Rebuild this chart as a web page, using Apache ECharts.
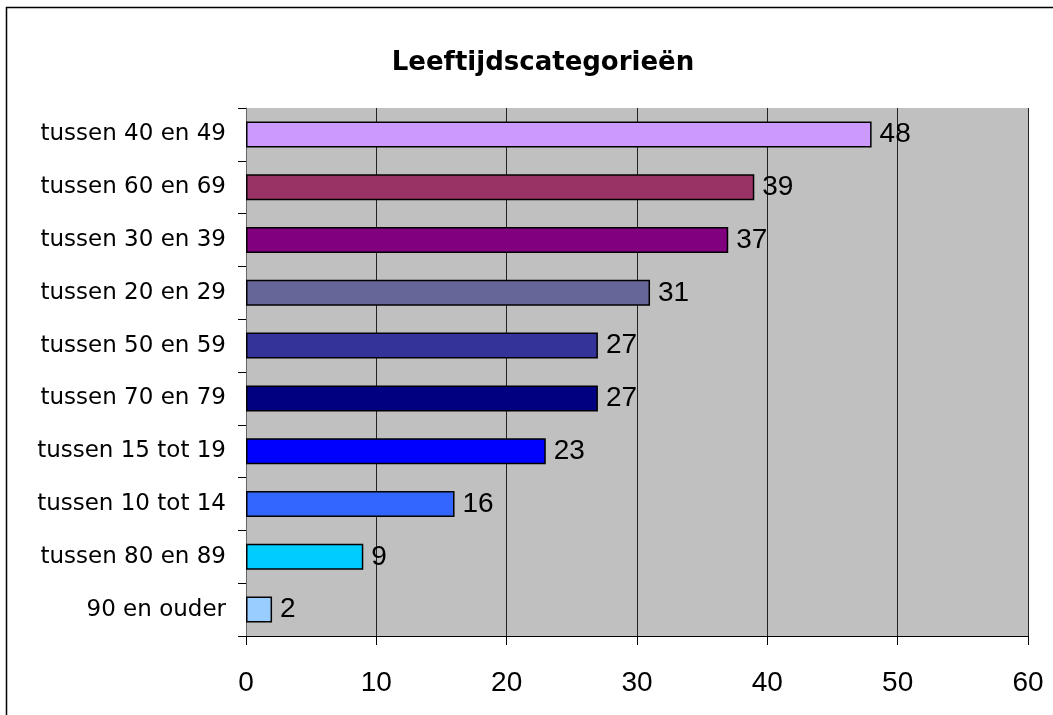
<!DOCTYPE html>
<html>
<head>
<meta charset="utf-8">
<script src="https://cdn.jsdelivr.net/npm/echarts@6/dist/echarts.min.js"></script>
<style>
  html, body { margin: 0; padding: 0; background: #fff; }
  #chart { width: 1053px; height: 715px; }
</style>
</head>
<body>
<div id="chart"></div>
<script>
// categorieen van boven naar beneden
const categories = [
  "tussen 40 en 49", "tussen 60 en 69", "tussen 30 en 39", "tussen 20 en 29",
  "tussen 50 en 59", "tussen 70 en 79", "tussen 15 tot 19", "tussen 10 tot 14",
  "tussen 80 en 89", "90 en ouder"
];
const values = [48, 39, 37, 31, 27, 27, 23, 16, 9, 2];
const barColors = [
  "#CC99FF", "#993366", "#800080", "#666699", "#333399",
  "#000080", "#0000FF", "#3366FF", "#00CCFF", "#99CCFF"
];
const xTicks = [0, 10, 20, 30, 40, 50, 60];

const chart = echarts.init(document.getElementById("chart"));

const option = {
  animation: false,
  backgroundColor: "#ffffff",
  title: {
    text: "Leeftijdscategorieën",
    left: 538,
    top: 45,
    textAlign: "center",
    textStyle: { fontFamily: "DejaVu Sans", fontWeight: "bold", fontSize: 26, color: "#000" }
  },
  graphic: [
    {
      // kader rond de grafiek
      type: "rect",
      shape: { x: 6.5, y: 7.5, width: 1200, height: 900 },
      style: { fill: null, stroke: "#000", lineWidth: 1.5 },
      z: -1
    }
  ],
  grid: { left: 246, right: 25, top: 108, bottom: 79, backgroundColor: "#C0C0C0", show: true, borderWidth: 0 },
  xAxis: {
    type: "value",
    min: xTicks[0],
    max: xTicks[xTicks.length - 1],
    interval: 10,
    axisLine: { show: true, lineStyle: { color: "#000", width: 1 } },
    axisTick: { show: true, length: 9, lineStyle: { color: "#000" } },
    axisLabel: { fontFamily: "Liberation Sans", fontSize: 28, color: "#000", margin: 33 },
    splitLine: { show: true, lineStyle: { color: "#222", width: 1 } }
  },
  yAxis: {
    type: "category",
    inverse: true,
    data: categories,
    axisLine: { show: true, lineStyle: { color: "#666", width: 1 } },
    axisTick: { show: true, inside: false, length: 8, lineStyle: { color: "#000" } },
    axisLabel: { fontFamily: "DejaVu Sans", fontSize: 23, color: "#000", margin: 20 }
  },
  series: [
    {
      type: "bar",
      data: values.map((v, i) => ({
        value: v,
        itemStyle: { color: barColors[i] }
      })),
      barWidth: 26,
      itemStyle: { borderColor: "#000", borderWidth: 1.5 },
      label: {
        show: true,
        position: "right",
        distance: 8,
        fontFamily: "Liberation Sans",
        fontSize: 28,
        color: "#000"
      }
    }
  ]
};

chart.setOption(option);
</script>
</body>
</html>
